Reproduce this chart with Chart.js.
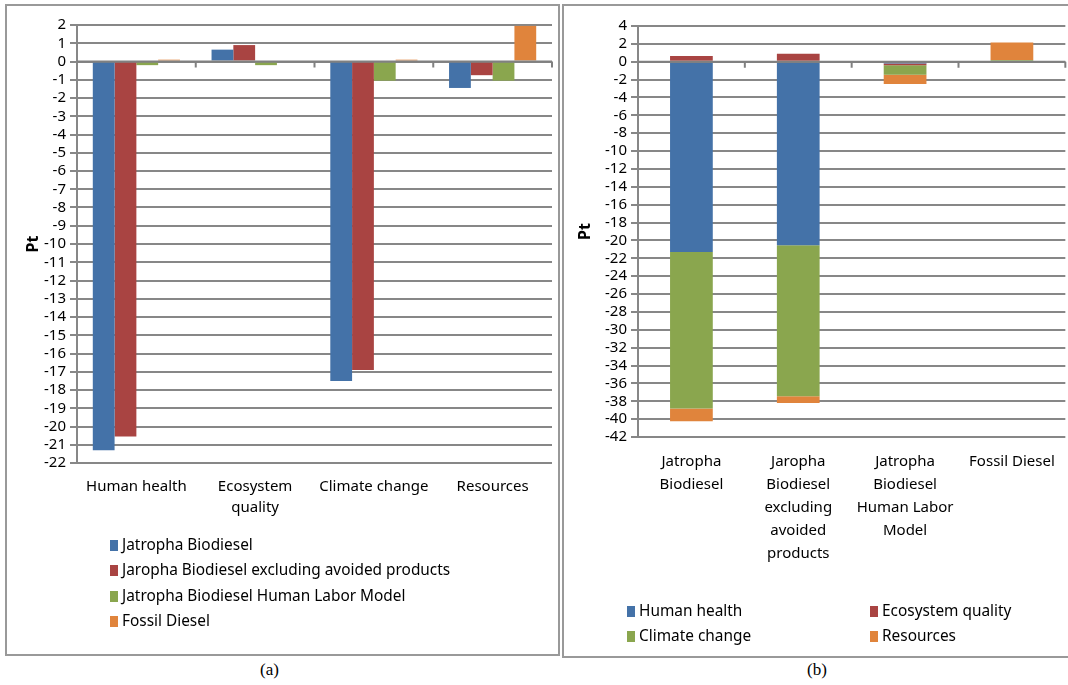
<!DOCTYPE html>
<html>
<head>
<meta charset="utf-8">
<script src="https://cdn.jsdelivr.net/npm/chart.js@4.4.1/dist/chart.umd.min.js"></script>
<style>
body { margin: 0; background: #fff; width: 1068px; height: 685px; position: relative; overflow: hidden; font-family: "Noto Sans", sans-serif; }
.panel { position: absolute; border: 2px solid #999; box-sizing: border-box; }
#pa { left: 5px; top: 4px; width: 555px; height: 652px; }
#pb { left: 562px; top: 4px; width: 512px; height: 654px; }
canvas { position: absolute; top: 0; }
#ca { left: 0; }
#cb { left: 562px; }
.item { position: absolute; white-space: nowrap; font-size: 15.4px; line-height: 20px; color: #000; }
.key { display: inline-block; width: 8px; height: 11px; margin-right: 4px; vertical-align: -1px; }
.cap { position: absolute; font-family: "Liberation Serif", serif; font-size: 17px; top: 660px; }
</style>
</head>
<body>
<div class="panel" id="pa"></div>
<div class="panel" id="pb"></div>
<canvas id="ca" width="560" height="660"></canvas>
<canvas id="cb" width="506" height="660"></canvas>
<div id="legA"></div>
<div id="legB"></div>
<div class="cap" style="left:260px">(a)</div>
<div class="cap" style="left:807px">(b)</div>
<script>
// impact categories (chart a) and products (chart b)
const impacts = ['Human health', 'Ecosystem quality', 'Climate change', 'Resources'];
const impactLabels = ['Human health', ['Ecosystem', 'quality'], 'Climate change', 'Resources'];
const products = ['Jatropha Biodiesel', 'Jaropha Biodiesel excluding avoided products', 'Jatropha Biodiesel Human Labor Model', 'Fossil Diesel'];
const productLabels = [['Jatropha', 'Biodiesel'], ['Jaropha', 'Biodiesel', 'excluding', 'avoided', 'products'], ['Jatropha', 'Biodiesel', 'Human Labor', 'Model'], 'Fossil Diesel'];

// values per product, in order of impacts (Pt)
const jatropha = [-21.3, 0.65, -17.5, -1.45];
const jatrophaExcl = [-20.55, 0.9, -16.9, -0.75];
const jatrophaHLM = [-0.2, -0.2, -1.05, -1.05];
const fossil = [0.1, 0.0, 0.1, 1.95];

const colors = ['#4472a8', '#a94442', '#8aa64e', '#e0843c'];
const gridColor = '#878787';
const font = { family: 'Noto Sans', size: 15 };

const series = [jatropha, jatrophaExcl, jatrophaHLM, fossil];

const zeroAxis = {
    id: 'zeroAxis',
    afterDatasetsDraw(chart) {
        const { ctx, scales: { x, y } } = chart;
        const y0 = y.getPixelForValue(0);
        const n = chart.data.labels.length;
        ctx.save();
        ctx.strokeStyle = '#808080';
        ctx.lineWidth = 2;
        ctx.beginPath();
        ctx.moveTo(x.left, y0);
        ctx.lineTo(x.right, y0);
        for (let i = 1; i <= n; i++) {
            const px = x.left + (x.right - x.left) * i / n;
            ctx.moveTo(px, y0);
            ctx.lineTo(px, y0 + 6);
        }
        ctx.stroke();
        ctx.restore();
    }
};

function makeOptions(o) {
    return {
        responsive: false,
        animation: false,
        layout: { padding: { left: o.padLeft, top: o.padTop, right: o.padRight, bottom: 0 } },
        plugins: { legend: { display: false }, tooltip: { enabled: false } },
        scales: {
            x: {
                stacked: o.stacked,
                grid: { display: false, drawTicks: false },
                border: { display: false },
                ticks: { font: { ...font, lineHeight: o.lineHeight }, color: '#000', padding: 13, maxRotation: 0, autoSkip: false },
                afterFit(scale) { scale.height = o.xHeight; }
            },
            y: {
                stacked: o.stacked,
                min: o.min,
                max: o.max,
                ticks: { stepSize: o.step, font: font, color: '#000', padding: 4, autoSkip: false },
                grid: { color: gridColor, lineWidth: 2, tickLength: 7 },
                border: { display: true, color: gridColor, width: 2 },
                title: { display: true, text: 'Pt', font: { family: 'Noto Sans', size: 16, weight: 'bold' }, color: '#000', padding: 0 },
                afterFit(scale) { scale.width = o.yWidth; }
            }
        }
    };
}

// chart (a): grouped bars per impact category
new Chart(document.getElementById('ca').getContext('2d'), {
    type: 'bar',
    data: {
        labels: impactLabels,
        datasets: products.map((p, i) => ({
            label: p,
            data: series[i],
            backgroundColor: colors[i],
            categoryPercentage: 0.734,
            barPercentage: 1
        }))
    },
    options: makeOptions({ padLeft: 24, padTop: 25, padRight: 8, yWidth: 53, xHeight: 197, min: -22, max: 2, step: 1, lineHeight: 1.4, stacked: false }),
    plugins: [zeroAxis]
});

// chart (b): stacked bars per product
new Chart(document.getElementById('cb').getContext('2d'), {
    type: 'bar',
    data: {
        labels: productLabels,
        datasets: impacts.map((imp, j) => ({
            label: imp,
            data: series.map(s => s[j]),
            backgroundColor: colors[j],
            categoryPercentage: 0.4,
            barPercentage: 1
        }))
    },
    options: makeOptions({ padLeft: 14, padTop: 26, padRight: 2, yWidth: 62, xHeight: 223, min: -42, max: 4, step: 2, lineHeight: 1.53, stacked: true }),
    plugins: [zeroAxis]
});

// legends
function addItem(parent, text, color, left, top) {
    const d = document.createElement('div');
    d.className = 'item';
    d.style.left = left + 'px';
    d.style.top = top + 'px';
    d.innerHTML = '<span class="key" style="background:' + color + '"></span>' + text;
    document.getElementById(parent).appendChild(d);
}
const rowsA = [535, 560, 586, 611];
products.forEach((p, i) => addItem('legA', p, colors[i], 110, rowsA[i]));
const posB = [[627, 601], [870, 601], [627, 626], [870, 626]];
impacts.forEach((imp, j) => addItem('legB', imp, colors[j], posB[j][0], posB[j][1]));
</script>
</body>
</html>
